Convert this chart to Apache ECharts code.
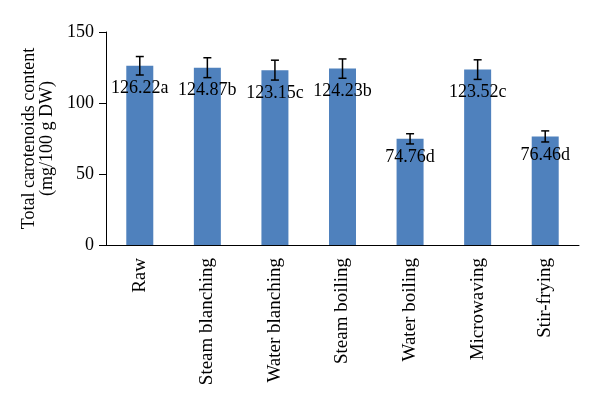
<!DOCTYPE html>
<html><head><meta charset="utf-8">
<script src="https://cdn.jsdelivr.net/npm/echarts@6/dist/echarts.min.js"></script>
<style>html,body{margin:0;padding:0;background:#fff}#c{width:600px;height:408px}</style>
</head><body><div id="c"></div>
<script>
const categories = ['Raw','Steam blanching','Water blanching','Steam boiling','Water boiling','Microwaving','Stir-frying'];
const values = [126.22,124.87,123.15,124.23,74.76,123.52,76.46];
const letters = ['a','b','c','b','d','c','d'];
const errors = [6.5,7,7,6.8,3.6,6.9,3.9];
const yTicks = [0,50,100,150];

const font = 'Liberation Serif';
const pxPerUnit = 213/150;
const chart = echarts.init(document.getElementById('c'));
chart.setOption({
  animation:false,
  grid:{left:106,right:21,top:32,bottom:163},
  xAxis:{type:'category',data:categories,
    axisLine:{lineStyle:{color:'#000',width:1}},
    axisTick:{alignWithLabel:false,length:5,lineStyle:{color:'#000'}},
    axisLabel:{rotate:90,color:'#000',fontFamily:font,fontSize:19,margin:13,interval:0}},
  yAxis:{type:'value',min:0,max:150,interval:50,
    name:'Total carotenoids content\n(mg/100 g DW)',nameLocation:'middle',nameGap:50,
    nameTextStyle:{color:'#000',fontFamily:font,fontSize:18,lineHeight:18},
    axisLine:{show:true,lineStyle:{color:'#000',width:1}},
    axisTick:{show:true,length:7,lineStyle:{color:'#000'}},
    splitLine:{show:false},
    axisLabel:{color:'#000',fontFamily:font,fontSize:18,margin:12,
      formatter:v=>yTicks.includes(v)?String(v):''}},
  series:[{type:'bar',barWidth:27,
    data:values.map((v,i)=>({value:v,label:{distance:errors[i]*pxPerUnit+4}})),
    itemStyle:{color:'#4f81bd'},
    label:{show:true,position:'insideTop',color:'#000',fontFamily:font,fontSize:18,
      formatter:p=>p.value.toFixed(2)+letters[p.dataIndex]}},
   {type:'custom',z:10,data:values.map((v,i)=>[i,v-errors[i],v+errors[i]]),
    renderItem:(params,api)=>{
      const lo=api.coord([api.value(0),api.value(1)]);
      const hi=api.coord([api.value(0),api.value(2)]);
      const x=lo[0], w=4;
      const st={stroke:'#000',lineWidth:1.5};
      return {type:'group',children:[
        {type:'line',shape:{x1:x,y1:lo[1],x2:x,y2:hi[1]},style:st},
        {type:'line',shape:{x1:x-w,y1:lo[1],x2:x+w,y2:lo[1]},style:st},
        {type:'line',shape:{x1:x-w,y1:hi[1],x2:x+w,y2:hi[1]},style:st}]};
    }}]
});
</script></body></html>
